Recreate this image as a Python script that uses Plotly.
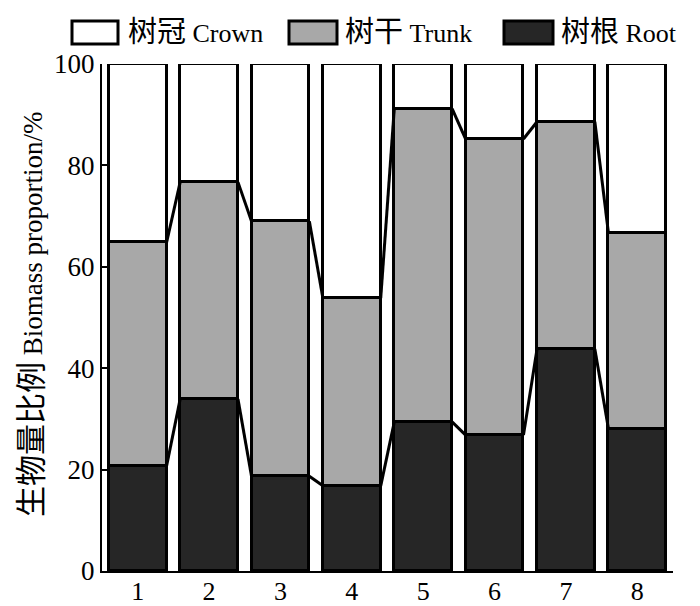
import plotly.graph_objects as go

categories = [1, 2, 3, 4, 5, 6, 7, 8]
root = [20.7, 33.9, 18.7, 16.8, 29.4, 26.8, 43.8, 28.1]
trunk = [44.1, 42.8, 50.3, 37.0, 61.8, 58.4, 44.8, 38.6]
crown = [round(100 - r - t, 1) for r, t in zip(root, trunk)]
series_names = ["树冠 Crown", "树干 Trunk", "树根 Root"]
tick_vals = [0, 20, 40, 60, 80, 100]

W, H = 700, 606
L, R, T, B = 102, 27, 64, 35
pw, ph = W - L - R, H - T - B
BAR_W = 0.81
FONT = "Liberation Serif, Times New Roman, Noto Sans CJK SC, serif"
colors = {"root": "#262626", "trunk": "#a8a8a8", "crown": "#ffffff"}

fig = go.Figure()
for name, vals, col in [("root", root, colors["root"]),
                        ("trunk", trunk, colors["trunk"]),
                        ("crown", crown, colors["crown"])]:
    fig.add_trace(go.Bar(x=categories, y=vals, width=BAR_W, name=name,
                         marker=dict(color=col, line=dict(color="black", width=3)),
                         showlegend=False))

# connecting lines between bar segment tops
cum1 = root
cum2 = [r + t for r, t in zip(root, trunk)]
for cum in (cum1, cum2):
    xs, ys = [], []
    for i in range(len(categories) - 1):
        xs += [categories[i] + BAR_W / 2, categories[i + 1] - BAR_W / 2, None]
        ys += [cum[i], cum[i + 1], None]
    fig.add_trace(go.Scatter(x=xs, y=ys, mode="lines", line=dict(color="black", width=3),
                             showlegend=False, hoverinfo="skip"))

def px2x(px):
    return (px - L) / pw

def py2y(py):
    return (H - B - py) / ph

# custom legend
legend_items = [
    (72, 118, 126, colors["crown"], series_names[0]),
    (289, 337, 343, colors["trunk"], series_names[1]),
    (504, 553, 559, colors["root"], series_names[2]),
]
for x0, x1, tx, col, label in legend_items:
    fig.add_shape(type="rect", xref="paper", yref="paper",
                  x0=px2x(x0), x1=px2x(x1), y0=py2y(44), y1=py2y(21),
                  fillcolor=col, line=dict(color="black", width=3))
    cjk, lat = label.split(" ")
    fig.add_annotation(xref="paper", yref="paper", x=px2x(tx), y=py2y(32),
                       xanchor="left", yanchor="middle", showarrow=False,
                       text=f'<span style="font-size:29px">{cjk}</span> {lat}',
                       font=dict(family=FONT, size=26, color="black"))

fig.add_annotation(xref="paper", yref="paper", x=px2x(31), y=py2y(314),
                   xanchor="center", yanchor="middle", showarrow=False, textangle=-90,
                   text='<span style="font-size:31px">生物量比例</span> Biomass proportion/%',
                   font=dict(family=FONT, size=27, color="black"))

fig.update_layout(
    width=W, height=H, barmode="stack", bargap=0,
    margin=dict(l=L, r=R, t=T, b=B, pad=0),
    paper_bgcolor="white", plot_bgcolor="white",
    font=dict(family=FONT, size=27, color="black"),
    xaxis=dict(range=[0.5, 8.5], tickvals=categories, ticktext=[str(c) for c in categories],
               showline=True, linecolor="black", linewidth=2, ticks="", showgrid=False,
               zeroline=False, tickfont=dict(size=26), automargin=False,
               ticklabelstandoff=-4),
    yaxis=dict(range=[0, 100], tickvals=tick_vals, showline=True, linecolor="black",
               linewidth=2, ticks="inside", ticklen=6, tickwidth=1.5, tickcolor="black",
               showgrid=False, zeroline=False, tickfont=dict(size=27), automargin=False),
)

fig.write_html("out.html", config={"displayModeBar": False},
               post_script="document.body.style.margin='0px';document.body.style.overflow='hidden';")
